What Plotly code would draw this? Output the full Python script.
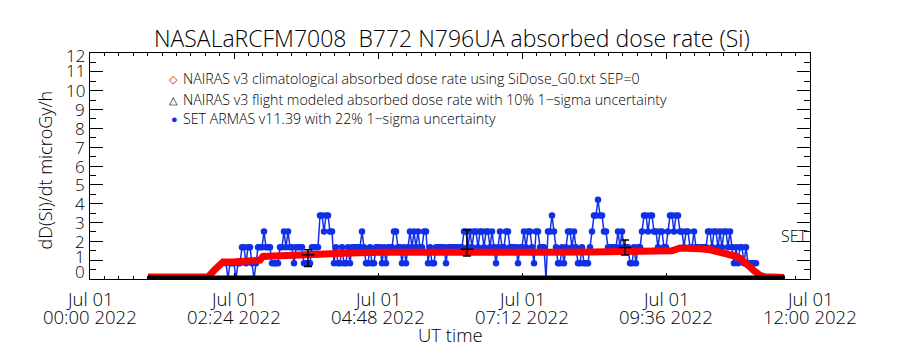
import pandas as pd
import plotly.graph_objects as go

DAY = "2022-07-01"

# NAIRAS v3 climatological dose rate (minutes after 00:00 UT, microGy/h)
CLIM_MIN = [58, 118, 124, 130, 133, 145, 160, 170, 173, 190, 215, 230, 260, 290,
            330, 360, 390, 450, 500, 540, 575, 582, 590, 600, 610, 620, 630, 640,
            646, 650, 654, 657, 660, 663, 666, 670, 675, 690, 694]
CLIM_DOSE = [0.10, 0.10, 0.45, 0.80, 0.90, 0.92, 0.97, 1.00, 1.20, 1.25, 1.30, 1.33,
             1.38, 1.42, 1.44, 1.43, 1.42, 1.42, 1.43, 1.44, 1.46, 1.50, 1.65, 1.65,
             1.60, 1.55, 1.45, 1.33, 1.20, 1.10, 0.95, 0.80, 0.65, 0.48, 0.35, 0.20,
             0.12, 0.09, 0.08]

# NAIRAS v3 flight modeled dose rate
FLIGHT_MIN = [58, 695]
FLIGHT_DOSE = [0.0, 0.0]

# SET ARMAS v11.39 samples: one character per 2-minute sample, keyed to dose levels
SET_START_MIN = 136
SET_STEP_MIN = 2
SET_LEVELS = ("1011101122" "1221012223" "2221111223" "2322122221" "1112222443"
              "4433121121" "1212222232" "1121122212" "1222332212" "1232323223"
              "3121122222" "1222222223" "3232332332" "3323212322" "3322221223"
              "2332133222" "0334321121" "2332321121" "1123445443" "3222223232"
              "2211212234" "4344332332" "2344344332" "3322322222" "2332332323"
              "3232121221" "211111")
LEVEL_DOSE = {"0": 0.0, "1": 0.84, "2": 1.68, "3": 2.52, "4": 3.37, "5": 4.21}

# 1-sigma uncertainty bars
ERR_MIN = [218, 377, 535]
ERR_DOSE = [1.28, 1.58, 1.67]
ERR_HIGH = [1.55, 2.60, 2.07]
ERR_LOW = [0.66, 1.22, 1.27]

TICK_MIN = [0, 144, 288, 432, 576, 720]
TICK_DATE = "Jul 01"
TICK_TIME = ["00:00 2022", "02:24 2022", "04:48 2022", "07:12 2022", "09:36 2022", "12:00 2022"]
Y_TICKS = list(range(0, 13))
# small vertical nudges (px) applied to some y tick labels
Y_LABEL_SHIFT = {0: 8, 1: 4, 11: 1, 12: -2}

LEGEND = [
    ("\u25C7", "#e00000", "NAIRAS v3 climatological absorbed dose rate using SiDose_G0.txt SEP=0"),
    ("\u25B3", "#000000", "NAIRAS v3 flight modeled absorbed dose rate with 10% 1\u2212sigma uncertainty"),
    ("\u25CF", "#1030e8", "SET ARMAS v11.39 with 22% 1\u2212sigma uncertainty"),
]

FONT = "Open Sans, Liberation Sans, Arial, sans-serif"
base = pd.Timestamp(DAY)


def at(minutes):
    return [base + pd.Timedelta(minutes=m) for m in minutes]


set_min = [SET_START_MIN + i * SET_STEP_MIN for i in range(len(SET_LEVELS))]
set_dose = [LEVEL_DOSE[c] for c in SET_LEVELS]

fig = go.Figure()

fig.add_trace(go.Scatter(
    x=at(set_min), y=set_dose, mode="lines+markers",
    line=dict(color="#1030e8", width=1.5),
    marker=dict(symbol="circle", size=6.5, color="#1030e8"),
    showlegend=False,
))
fig.add_trace(go.Scatter(
    x=at(CLIM_MIN), y=CLIM_DOSE, mode="lines",
    line=dict(color="#ff0000", width=7),
    showlegend=False,
))
fig.add_trace(go.Scatter(
    x=at(FLIGHT_MIN), y=FLIGHT_DOSE, mode="lines",
    line=dict(color="#000000", width=7),
    showlegend=False,
))
fig.add_trace(go.Scatter(
    x=at(ERR_MIN), y=ERR_DOSE, mode="markers",
    marker=dict(symbol="line-ew", size=9, line=dict(color="black", width=1.5)),
    error_y=dict(type="data", symmetric=False,
                 array=[h - d for h, d in zip(ERR_HIGH, ERR_DOSE)],
                 arrayminus=[d - l for d, l in zip(ERR_DOSE, ERR_LOW)],
                 color="black", thickness=1.5, width=4),
    showlegend=False,
))

W300 = dict(weight=300)
annotations = []
for m, t in zip(TICK_MIN, TICK_TIME):
    x = at([m])[0]
    annotations.append(dict(x=x, y=0, xref="x", yref="paper", text=TICK_DATE,
                            xanchor="center", yanchor="middle", showarrow=False,
                            yshift=-19, font=dict(size=18.5, **W300)))
    annotations.append(dict(x=x, y=0, xref="x", yref="paper", text=t,
                            xanchor="center", yanchor="middle", showarrow=False,
                            yshift=-37, font=dict(size=18.5, **W300)))
for v in Y_TICKS:
    annotations.append(dict(x=0, y=v, xref="paper", yref="y", text=str(v),
                            xanchor="right", yanchor="middle", showarrow=False,
                            xshift=-3, yshift=Y_LABEL_SHIFT.get(v, 0),
                            font=dict(size=17, **W300)))
annotations.append(dict(x=0.5, y=0, xref="paper", yref="paper", text="UT time",
                        xanchor="center", yanchor="middle", showarrow=False,
                        yshift=-55, font=dict(size=18.5, **W300)))
annotations.append(dict(x=-0.0625, y=0.48, xref="paper", yref="paper",
                        text="dD(Si)/dt microGy/h", textangle=-90,
                        xanchor="center", yanchor="middle",
                        showarrow=False, font=dict(size=18, **W300)))
annotations.append(dict(x=1, y=0.19, xref="paper", yref="paper", text="SET",
                        xanchor="right", yanchor="middle", showarrow=False,
                        font=dict(size=16, **W300)))
for i, (sym, col, label) in enumerate(LEGEND):
    yp = [0.889, 0.795, 0.708][i]
    annotations.append(dict(x=0.125, y=yp, xref="paper", yref="paper", text=sym,
                            xanchor="right", yanchor="middle",
                            showarrow=False, font=dict(size=11, color=col)))
    annotations.append(dict(x=0.127, y=yp, xref="paper", yref="paper", text=label,
                            xanchor="left", yanchor="middle", showarrow=False,
                            font=dict(size=14.2, **W300)))

fig.update_layout(
    width=900, height=350,
    margin=dict(l=90, r=90, t=53, b=71),
    paper_bgcolor="white", plot_bgcolor="white",
    font=dict(family=FONT, color="black"),
    title=dict(text="NASALaRCFM7008&nbsp;&nbsp;B772 N796UA absorbed dose rate (Si)",
               x=0.502, xanchor="center", y=1 - 39 / 350, yanchor="middle",
               font=dict(size=23, weight=300)),
    annotations=annotations,
    showlegend=False,
)
fig.update_xaxes(
    type="date", range=[base, base + pd.Timedelta(hours=12)],
    showgrid=False, showline=True, linecolor="black", linewidth=1, mirror="allticks",
    ticks="inside", ticklen=6, tickcolor="black",
    tickmode="array", tickvals=at(TICK_MIN), showticklabels=False,
    minor=dict(ticks="inside", ticklen=3, tickcolor="black", dtick=864000, tick0=base, showgrid=False),
)
fig.update_yaxes(
    range=[0, 12], showgrid=False, zeroline=False,
    showline=True, linecolor="black", linewidth=1, mirror="allticks",
    ticks="inside", ticklen=13, tickcolor="black", dtick=1, tick0=0,
    showticklabels=False,
    minor=dict(ticks="inside", ticklen=6, tickcolor="black", dtick=0.5, showgrid=False),
)

fig.write_html("out.html")
